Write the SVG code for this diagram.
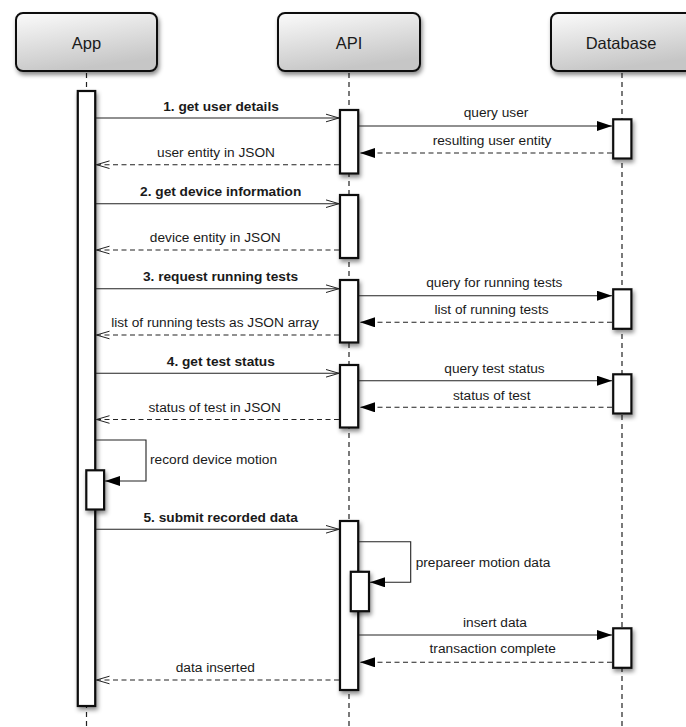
<svg xmlns="http://www.w3.org/2000/svg" width="686" height="727" viewBox="0 0 686 727">
<defs>
<linearGradient id="hdr" x1="0" y1="0" x2="0.35" y2="1">
<stop offset="0" stop-color="#fbfbfb"/>
<stop offset="1" stop-color="#c6c6c6"/>
</linearGradient>
<filter id="sh" x="-30%" y="-10%" width="170%" height="130%">
<feDropShadow dx="1.5" dy="3" stdDeviation="2" flood-color="#000" flood-opacity="0.45"/>
</filter>
<marker id="open" viewBox="0 0 14 10" refX="13.5" refY="5" markerWidth="14" markerHeight="10" markerUnits="userSpaceOnUse" orient="auto">
<path d="M0.5,1.2 L13.5,5 L0.5,8.8" fill="none" stroke="#222" stroke-width="1"/>
</marker>
<marker id="fill" viewBox="0 0 15 10" refX="15" refY="5" markerWidth="15" markerHeight="10" markerUnits="userSpaceOnUse" orient="auto">
<path d="M0,0 L15,5 L0,10 Z" fill="#000"/>
</marker>
<style>
.hbox{fill:url(#hdr);stroke:#111;stroke-width:2;filter:url(#sh)}
.htxt{font-family:"Liberation Sans",Arial,sans-serif;font-size:16.5px;fill:#1a1a1a;text-anchor:middle}
.life{stroke:#222;stroke-width:1.2;stroke-dasharray:5,4;fill:none}
.act{fill:#fff;stroke:#111;stroke-width:2.2;filter:url(#sh)}
.msg{stroke:#222;stroke-width:1.1;fill:none}
.ret{stroke:#222;stroke-width:1.1;fill:none;stroke-dasharray:5,3.5}
.lbl{font-family:"Liberation Sans",Arial,sans-serif;font-size:13.7px;fill:#1a1a1a;text-anchor:middle}
.b{font-weight:bold}
.st{text-anchor:start}
</style>
</defs>
<g id="lifelines">
<line class="life" x1="86.5" y1="73" x2="86.5" y2="727"/>
<line class="life" x1="349" y1="73" x2="349" y2="727"/>
<line class="life" x1="622" y1="73" x2="622" y2="727"/>
</g>
<g id="node-app">
<rect class="hbox" x="16" y="13" width="141" height="58" rx="7"/>
<text class="htxt" x="86.5" y="49">App</text>
</g>
<g id="node-api">
<rect class="hbox" x="278" y="13" width="142" height="58" rx="7"/>
<text class="htxt" x="349" y="49">API</text>
</g>
<g id="node-database">
<rect class="hbox" x="551" y="13" width="142" height="58" rx="7"/>
<text class="htxt" x="621" y="49">Database</text>
</g>
<g id="activations">
<rect id="act-app" class="act" x="77.8" y="91" width="17.4" height="615"/>
<rect id="act-app-self" class="act" x="86.3" y="470.3" width="17.8" height="39.2"/>
<rect id="act-api-1" class="act" x="340" y="110" width="18.2" height="63.5"/>
<rect id="act-api-2" class="act" x="340" y="195" width="18.2" height="63"/>
<rect id="act-api-3" class="act" x="340" y="280" width="18.2" height="62.5"/>
<rect id="act-api-4" class="act" x="340" y="365" width="18.2" height="62.5"/>
<rect id="act-api-5" class="act" x="340" y="521" width="18.2" height="169"/>
<rect id="act-api-self" class="act" x="350.8" y="571.8" width="18.2" height="39.4"/>
<rect id="act-db-1" class="act" x="613.2" y="119.3" width="18.2" height="39.2"/>
<rect id="act-db-2" class="act" x="613.2" y="289.3" width="18.2" height="39.5"/>
<rect id="act-db-3" class="act" x="613.2" y="374.3" width="18.2" height="39.2"/>
<rect id="act-db-4" class="act" x="613.2" y="628.3" width="18.2" height="39.5"/>
</g>
<g id="connectors">
<line class="msg" x1="96" y1="118" x2="339" y2="118" marker-end="url(#open)"/>
<line class="msg" x1="359" y1="126" x2="612" y2="126" marker-end="url(#fill)"/>
<line class="ret" x1="612" y1="153" x2="360" y2="153" marker-end="url(#fill)"/>
<line class="ret" x1="339" y1="164.7" x2="96.5" y2="164.7" marker-end="url(#open)"/>
<line class="msg" x1="96" y1="203.7" x2="339" y2="203.7" marker-end="url(#open)"/>
<line class="ret" x1="339" y1="250" x2="96.5" y2="250" marker-end="url(#open)"/>
<line class="msg" x1="96" y1="288.7" x2="339" y2="288.7" marker-end="url(#open)"/>
<line class="msg" x1="359" y1="295.7" x2="612" y2="295.7" marker-end="url(#fill)"/>
<line class="ret" x1="612" y1="322.3" x2="360" y2="322.3" marker-end="url(#fill)"/>
<line class="ret" x1="339" y1="335" x2="96.5" y2="335" marker-end="url(#open)"/>
<line class="msg" x1="96" y1="373.3" x2="339" y2="373.3" marker-end="url(#open)"/>
<line class="msg" x1="359" y1="380.7" x2="612" y2="380.7" marker-end="url(#fill)"/>
<line class="ret" x1="612" y1="407.3" x2="360" y2="407.3" marker-end="url(#fill)"/>
<line class="ret" x1="339" y1="419.5" x2="96.5" y2="419.5" marker-end="url(#open)"/>
<polyline class="msg" points="96,440 146,440 146,481 105,481" marker-end="url(#fill)"/>
<line class="msg" x1="96" y1="529.3" x2="339" y2="529.3" marker-end="url(#open)"/>
<polyline class="msg" points="359,541.7 410.7,541.7 410.7,582.3 370,582.3" marker-end="url(#fill)"/>
<line class="msg" x1="359" y1="635" x2="612" y2="635" marker-end="url(#fill)"/>
<line class="ret" x1="612" y1="662.3" x2="360" y2="662.3" marker-end="url(#fill)"/>
<line class="ret" x1="339" y1="680" x2="96.5" y2="680" marker-end="url(#open)"/>
</g>
<g id="labels">
<text class="lbl b" x="221" y="111">1. get user details</text>
<text class="lbl" x="496" y="117.3">query user</text>
<text class="lbl" x="492" y="144.5">resulting user entity</text>
<text class="lbl" x="216" y="156.5">user entity in JSON</text>
<text class="lbl b" x="220.7" y="195.8">2. get device information</text>
<text class="lbl" x="215.3" y="242.3">device entity in JSON</text>
<text class="lbl b" x="220.5" y="280.7">3. request running tests</text>
<text class="lbl" x="494.3" y="287.3">query for running tests</text>
<text class="lbl" x="491.5" y="314.3">list of running tests</text>
<text class="lbl" x="215" y="327">list of running tests as JSON array</text>
<text class="lbl b" x="220.8" y="365.7">4. get test status</text>
<text class="lbl" x="494.5" y="372.7">query test status</text>
<text class="lbl" x="491.7" y="399.7">status of test</text>
<text class="lbl" x="214.7" y="411.7">status of test in JSON</text>
<text class="lbl st" x="150" y="464.3">record device motion</text>
<text class="lbl b" x="220.7" y="521.7">5. submit recorded data</text>
<text class="lbl st" x="415.7" y="566.7">prepareer motion data</text>
<text class="lbl" x="495" y="626.7">insert data</text>
<text class="lbl" x="492.7" y="653.3">transaction complete</text>
<text class="lbl" x="215.3" y="671.7">data inserted</text>
</g>
</svg>
